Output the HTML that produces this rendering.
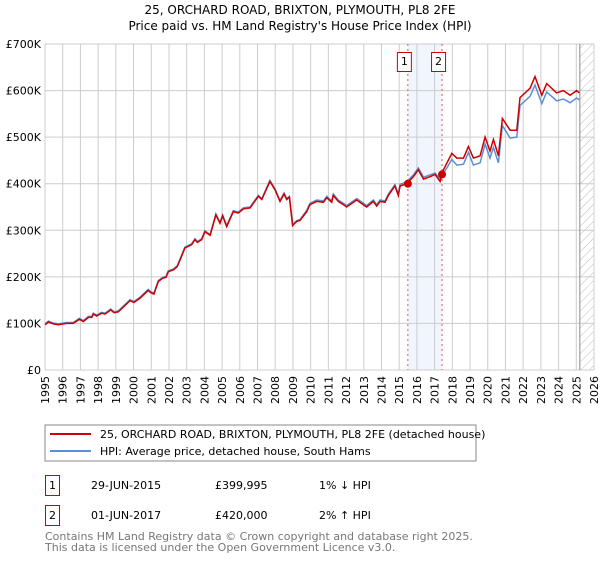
<!DOCTYPE html>
<html><head><meta charset="utf-8"><style>
body{margin:0;background:#fff;}
svg text{font-family:"DejaVu Sans","Liberation Sans",sans-serif;}
</style></head><body>
<svg id="c" width="600" height="560" xmlns="http://www.w3.org/2000/svg">
<defs><pattern id="hatch" width="6" height="6" patternUnits="userSpaceOnUse" patternTransform="rotate(45)"><line x1="0" y1="0" x2="0" y2="6" stroke="#bbb" stroke-width="1"/></pattern></defs>
<text x="300" y="14" text-anchor="middle" font-size="12">25, ORCHARD ROAD, BRIXTON, PLYMOUTH, PL8 2FE</text>
<text x="300" y="30" text-anchor="middle" font-size="12">Price paid vs. HM Land Registry's House Price Index (HPI)</text>
<g id="plot"></g>
<rect x="45" y="425" width="431" height="36" fill="#fff" stroke="#888"/>
<line x1="50" y1="434" x2="91" y2="434" stroke="#cc0000" stroke-width="2"/>
<text x="100" y="438" font-size="11">25, ORCHARD ROAD, BRIXTON, PLYMOUTH, PL8 2FE (detached house)</text>
<line x1="50" y1="451" x2="91" y2="451" stroke="#5b8fd4" stroke-width="2"/>
<text x="100" y="455" font-size="11">HPI: Average price, detached house, South Hams</text>
<rect x="45.5" y="475.5" width="14" height="20" fill="none" stroke="#cc0000"/>
<text x="52.5" y="489" text-anchor="middle" font-size="11">1</text>
<text x="91" y="489" font-size="11">29-JUN-2015</text>
<text x="215" y="489" font-size="11">£399,995</text>
<text x="319" y="489" font-size="11">1% ↓ HPI</text>
<rect x="45.5" y="505.5" width="14" height="20" fill="none" stroke="#cc0000"/>
<text x="52.5" y="519" text-anchor="middle" font-size="11">2</text>
<text x="91" y="519" font-size="11">01-JUN-2017</text>
<text x="215" y="519" font-size="11">£420,000</text>
<text x="319" y="519" font-size="11">2% ↑ HPI</text>
<text x="45" y="540" font-size="11" fill="#777">Contains HM Land Registry data © Crown copyright and database right 2025.</text>
<text x="45" y="551" font-size="11" fill="#777">This data is licensed under the Open Government Licence v3.0.</text>
</svg>
<script>
// values in thousands of pounds, aligned with years
const years=[
1995.0,1995.19,1995.47,1995.75,1996.22,1996.6,1996.94,1997.16,1997.45,1997.64,
1997.73,1997.92,1998.2,1998.39,1998.71,1998.9,1999.14,1999.42,1999.8,2000.02,
2000.36,2000.83,2000.98,2001.15,2001.4,2001.64,2001.83,2001.96,2002.25,2002.47,
2002.9,2003.28,2003.47,2003.6,2003.85,2004.03,2004.32,2004.65,2004.88,2005.03,
2005.26,2005.63,2005.92,2006.2,2006.58,2006.76,2007.05,2007.24,2007.7,2007.99,
2008.27,2008.5,2008.65,2008.8,2008.98,2009.21,2009.4,2009.78,2009.96,2010.34,
2010.72,2010.91,2011.19,2011.28,2011.56,2011.85,2012.03,2012.6,2012.98,2013.16,
2013.54,2013.73,2013.92,2014.2,2014.39,2014.76,2014.95,2015.05,2015.42,2015.8,
2016.08,2016.37,2016.74,2017.03,2017.31,2017.5,2017.97,2018.25,2018.63,2018.91,
2019.19,2019.57,2019.85,2020.13,2020.32,2020.6,2020.83,2021.26,2021.64,2021.82,
2022.39,2022.67,2023.05,2023.33,2023.89,2024.27,2024.65,2025.02,2025.17];
const redValues=[
97,103,99,97,100,100,109,104,113,113,
120,116,122,120,129,123,125,135,149,145,
154,171,166,163,190,197,199,211,215,222,
262,269,280,274,280,297,289,333,315,331,
308,340,337,346,348,358,373,366,405,387,
362,378,366,371,310,319,321,340,355,362,
360,370,360,375,362,355,350,365,355,350,
362,352,362,360,375,395,375,395,400,415,
430,410,415,420,405,430,465,455,455,480,
455,460,500,470,495,460,540,515,515,585,
605,630,590,615,595,600,590,600,595];
const hpiValues=[
99,105,101,99,102,102,111,106,115,115,
122,118,124,122,131,125,127,137,151,147,
156,173,168,165,192,199,201,213,217,224,
264,271,282,276,282,299,291,335,317,333,
310,342,339,348,350,360,375,368,407,389,
364,380,368,373,312,321,323,343,358,365,
363,373,363,378,365,358,353,368,358,353,
365,355,365,363,378,398,378,399,404,419,
434,414,419,423,410,422,452,440,442,467,
440,445,485,455,478,445,525,498,500,568,
588,612,572,597,578,582,574,584,580];
const yTicks=[0,100,200,300,400,500,600,700];
const yTickLabels=["£0","£100K","£200K","£300K","£400K","£500K","£600K","£700K"];
const xTicks=[1995,1996,1997,1998,1999,2000,2001,2002,2003,2004,2005,2006,2007,2008,2009,2010,2011,2012,2013,2014,2015,2016,2017,2018,2019,2020,2021,2022,2023,2024,2025,2026];
const saleYears=[2015.49,2017.42];
const salePrices=[399.995,420];
const saleIds=["1","2"];
const dataEnd=2025.2;

const X0=45,X1=594,Y0=370,Y1=44;
const xs=t=>X0+(t-1995)/(2026-1995)*(X1-X0);
const ys=v=>Y0-v/700*(Y0-Y1);
const NS="http://www.w3.org/2000/svg";
const g=document.getElementById('plot');
function mk(tag,a){const e=document.createElementNS(NS,tag);for(const k in a)e.setAttribute(k,a[k]);g.appendChild(e);return e;}

let sh=mk('rect',{x:xs(saleYears[0]),y:Y1,width:xs(saleYears[1])-xs(saleYears[0]),height:Y0-Y1,fill:'#eef3fc',opacity:0.8});


let ht=mk('rect',{x:xs(dataEnd),y:Y1,width:X1-xs(dataEnd),height:Y0-Y1,fill:'url(#hatch)'});



xTicks.forEach(t=>{
 const l=mk('line',{x1:xs(t),y1:Y1,x2:xs(t),y2:Y0,stroke:'#ccc','stroke-width':1});
 
 
 const tx=mk('text',{x:0,y:0,'font-size':11,'text-anchor':'end',transform:`translate(${xs(t)+4},${Y0+6}) rotate(-90)`});
 tx.textContent=t;
 
 
});
yTicks.forEach((v,i)=>{
 const l=mk('line',{x1:X0,y1:ys(v),x2:X1,y2:ys(v),stroke:'#ccc','stroke-width':1});
 
 
 const tx=mk('text',{x:X0-4,y:ys(v)+4,'font-size':11,'text-anchor':'end'});
 tx.textContent=yTickLabels[i];
 
 
});
let el=mk('line',{x1:xs(dataEnd),y1:Y1,x2:xs(dataEnd),y2:Y0,stroke:'#888','stroke-width':1});



saleYears.forEach((t,i)=>{
 const l=mk('line',{x1:xs(t),y1:Y1,x2:xs(t),y2:Y0,stroke:'#e05555','stroke-width':1,'stroke-dasharray':'2,3'});
 
 
});

const pts=vals=>vals.map((v,i)=>xs(years[i]).toFixed(1)+','+ys(v).toFixed(1)).join(' ');
let hp=mk('polyline',{points:pts(hpiValues),fill:'none',stroke:'#5b8fd4','stroke-width':1.5});


let rp=mk('polyline',{points:pts(redValues),fill:'none',stroke:'#cc0000','stroke-width':1.5});



saleYears.forEach((t,i)=>{
 const c=mk('circle',{cx:xs(t),cy:ys(salePrices[i]),r:4,fill:'#cc0000'});
 
 
 const b=mk('rect',{x:xs(t)-10.5,y:52.5,width:14,height:19,fill:'#fff',stroke:'#cc0000'});
 
 
 const tx=mk('text',{x:xs(t)-3.5,y:65,'font-size':11,'text-anchor':'middle'});
 tx.textContent=saleIds[i];
 
 
});
</script>
</body></html>
